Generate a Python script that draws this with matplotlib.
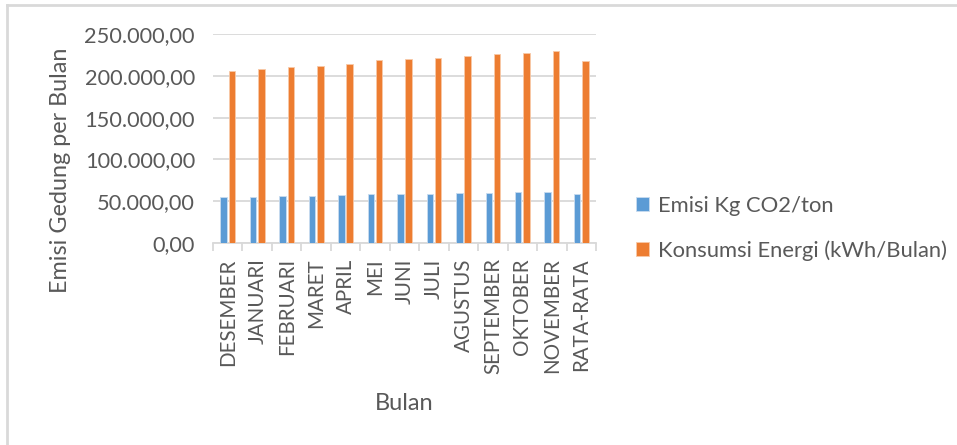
import numpy as np
import matplotlib.pyplot as plt
from matplotlib.lines import Line2D
from matplotlib.ticker import FuncFormatter

plt.rcParams['font.family'] = ['Lato', 'DejaVu Sans']

bulan = ["DESEMBER", "JANUARI", "FEBRUARI", "MARET", "APRIL", "MEI", "JUNI",
         "JULI", "AGUSTUS", "SEPTEMBER", "OKTOBER", "NOVEMBER", "RATA-RATA"]
emisi = [54700, 55500, 56300, 56700, 57500, 58700, 58700,
         59100, 59900, 60300, 61100, 61500, 58300]
konsumsi = [205700, 208400, 210000, 211200, 214100, 218900, 220100,
            221300, 224000, 226100, 227600, 230000, 218000]

biru = "#5b9bd5"
oranye = "#ed7d31"
teks = "#595959"
garis = "#d9d9d9"


def rupiah_style(v, pos):
    s = f"{v:,.2f}"
    return s.replace(",", "X").replace(".", ",").replace("X", ".")


fig = plt.figure(figsize=(9.57, 4.45), dpi=100)
ax = fig.add_axes([0.2226, 0.4539, 0.4002, 0.4697])

x = np.arange(len(bulan))
w = 0.22
ax.bar(x - 0.14, emisi, w, color=biru, edgecolor="#c9dcef", linewidth=0.6,
       label="Emisi Kg CO2/ton", zorder=3)
ax.bar(x + 0.14, konsumsi, w, color=oranye, edgecolor="#f8c9a8", linewidth=0.6,
       label="Konsumsi Energi (kWh/Bulan)", zorder=3)

ax.set_xlim(-0.5, len(bulan) - 0.5)
ax.set_ylim(0, 250000)
ax.set_yticks(np.arange(0, 250001, 50000))
ax.yaxis.set_major_formatter(FuncFormatter(rupiah_style))
ax.grid(axis="y", color=garis, linewidth=1.3, zorder=0)

ax.set_xticks(x)
ax.set_xticklabels(bulan, rotation=90, fontsize=14.8, color=teks)
ax.tick_params(axis="x", length=0, pad=11)
ax.set_xticks(np.arange(-0.5, len(bulan)), minor=True)
ax.tick_params(axis="x", which="minor", length=6, color=garis, width=1.3)
ax.tick_params(axis="y", length=0, labelsize=15.7, labelcolor=teks, pad=13)

for s in ["top", "right", "left"]:
    ax.spines[s].set_visible(False)
ax.spines["bottom"].set_color(garis)
ax.spines["bottom"].set_linewidth(1.3)

ax.set_ylabel("Emisi Gedung per Bulan", fontsize=16.8, color=teks)
ax.yaxis.set_label_coords(-0.372, 0.35)
ax.set_xlabel("Bulan", fontsize=17, color=teks)
ax.xaxis.set_label_coords(0.5, -0.718)

leg = ax.legend(loc="center left", bbox_to_anchor=(1.082, 0.07), frameon=False,
                fontsize=15.8, handlelength=0.6, handleheight=0.6,
                handletextpad=0.4, labelspacing=1.1, borderaxespad=0)
for t in leg.get_texts():
    t.set_color(teks)

# border of the chart area
fig.add_artist(Line2D([7 / 957, 1], [1 - 5 / 445, 1 - 5 / 445],
                      color=garis, linewidth=2, transform=fig.transFigure))
fig.add_artist(Line2D([7 / 957, 7 / 957], [0, 1 - 5 / 445],
                      color=garis, linewidth=2, transform=fig.transFigure))

fig.savefig("out.png", dpi=100, facecolor="white")
